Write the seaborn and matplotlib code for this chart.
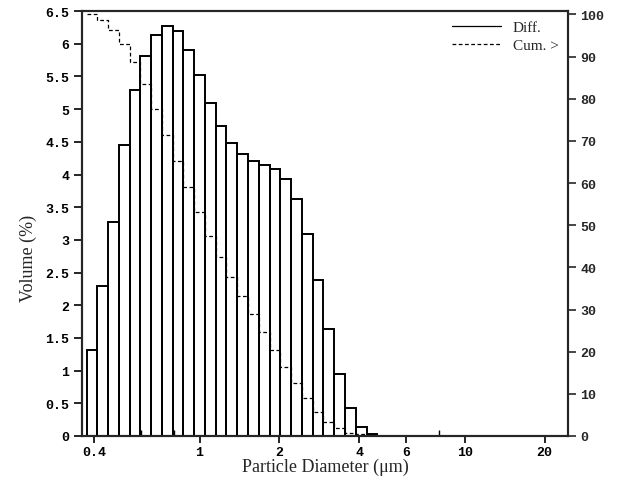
import numpy as np
import pandas as pd
import matplotlib
matplotlib.use("Agg")
import matplotlib.pyplot as plt
from matplotlib.lines import Line2D
import seaborn as sns

# Bin lower/upper edges (um)
bin_edges = [0.375, 0.412, 0.452, 0.496, 0.545, 0.599, 0.657, 0.722, 0.792,
             0.870, 0.955, 1.049, 1.152, 1.264, 1.388, 1.524, 1.674, 1.838,
             2.018, 2.216, 2.433, 2.671, 2.933, 3.220, 3.536, 3.882, 4.263,
             4.681]
# Differential volume % per bin
diff_vol = [1.31, 2.29, 3.27, 4.45, 5.29, 5.82, 6.13, 6.27, 6.20, 5.91,
            5.52, 5.10, 4.74, 4.49, 4.32, 4.21, 4.15, 4.09, 3.93, 3.62,
            3.09, 2.39, 1.63, 0.95, 0.43, 0.14, 0.03]
# Cumulative volume % greater than lower edge of each bin
cum_gt = [100.0, 98.7, 96.4, 93.1, 88.7, 83.4, 77.6, 71.4, 65.2, 59.0,
          53.1, 47.5, 42.4, 37.7, 33.2, 28.9, 24.7, 20.5, 16.4, 12.5,
          8.9, 5.8, 3.4, 1.8, 0.8, 0.4, 0.2]

x_ticks = [0.4, 1, 2, 4, 6, 10, 20]
x_ticklabels = ["0.4", "1", "2", "4", "6", "10", "20"]
x_minor = [0.6, 0.8, 8]
y_ticks = [0, 0.5, 1, 1.5, 2, 2.5, 3, 3.5, 4, 4.5, 5, 5.5, 6, 6.5]
y_ticklabels = ["0", "0.5", "1", "1.5", "2", "2.5", "3", "3.5", "4", "4.5",
                "5", "5.5", "6", "6.5"]
y2_ticks = list(range(0, 101, 10))

sns.set_style("ticks")
plt.rcParams["font.family"] = ["Liberation Mono", "DejaVu Sans Mono"]

fig = plt.figure(figsize=(6.2, 4.85), dpi=100)
ax = fig.add_axes([0.132, 0.099, 0.784, 0.876])

edges = np.array(bin_edges)
centers = np.sqrt(edges[:-1] * edges[1:])
df = pd.DataFrame({"size": centers, "vol": diff_vol})

sns.histplot(data=df, x="size", weights="vol",
             bins=list(np.log10(edges)),
             log_scale=True, fill=False, element="bars",
             color="black", linewidth=1.4, ax=ax)

ax.set_xlim(0.36, 24.5)
ax.set_ylim(0, 6.5)
ax.set_xticks(x_ticks)
ax.set_xticklabels(x_ticklabels)
ax.set_xticks(x_minor, minor=True)
ax.xaxis.set_minor_formatter(matplotlib.ticker.NullFormatter())
ax.set_yticks(y_ticks)
ax.set_yticklabels(y_ticklabels)
ax.tick_params(axis="y", direction="out", length=6, width=1.2,
               labelsize=9.5, colors="black", pad=3)
ax.tick_params(axis="x", which="major", direction="out", length=5,
               width=1.2, labelsize=9.5, colors="black", pad=2)
ax.tick_params(axis="x", which="minor", direction="in", length=4,
               width=1.0, colors="black")
for lbl in ax.get_xticklabels() + ax.get_yticklabels():
    lbl.set_fontweight("bold")
for s in ax.spines.values():
    s.set_linewidth(1.5)
    s.set_color("black")

ax.set_xlabel("Particle Diameter (\u03bcm)", family="Liberation Serif",
              fontsize=13)
ax.xaxis.set_label_coords(0.5, -0.052)
ax.set_ylabel("Volume (%)", family="Liberation Serif", fontsize=13)
ax.yaxis.set_label_coords(-0.092, 0.42)

# Cumulative curve on the right axis
ax2 = ax.twinx()
cum_df = pd.DataFrame({"size": bin_edges + [24.5],
                       "cum": cum_gt + [0.0, 0.0]})
sns.lineplot(data=cum_df, x="size", y="cum", drawstyle="steps-post",
             color="black", linewidth=0.9, linestyle=(0, (3, 2)),
             ax=ax2)
ax2.set_ylim(0, 100.8)
ax2.set_yticks(y2_ticks)
ax2.set_ylabel("")
ax2.tick_params(axis="y", direction="out", length=6, width=1.2,
                labelsize=9.5, pad=3)
for lbl in ax2.get_yticklabels():
    lbl.set_fontweight("bold")
for s in ax2.spines.values():
    s.set_linewidth(1.5)

handles = [Line2D([], [], color="black", linewidth=0.9),
           Line2D([], [], color="black", linewidth=0.9,
                  linestyle=(0, (3, 2)))]
ax.legend(handles, ["Diff.", "Cum. >"], loc="upper right", frameon=False,
          prop={"family": "Liberation Serif", "size": 11},
          handlelength=3.2, borderaxespad=0.2, labelspacing=0.3)

fig.savefig("out.png", dpi=100)
